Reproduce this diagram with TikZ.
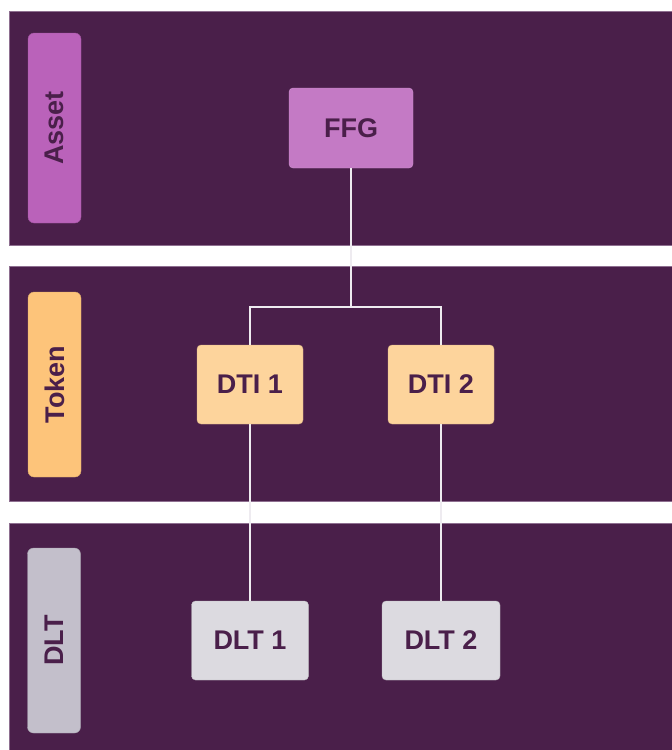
\documentclass[tikz,border=0pt]{standalone}
\usepackage{fontspec}
\setmainfont{Liberation Sans}
\usepackage{tikz}
\usetikzlibrary{positioning}
\definecolor{TKBand}{HTML}{4A1F4A}
\definecolor{TKBandEdge}{HTML}{8E6F90}
\definecolor{TKText}{HTML}{4A1F4A}
\definecolor{TKAssetPill}{HTML}{BA62BA}
\definecolor{TKAssetBox}{HTML}{C47AC5}
\definecolor{TKTokenPill}{HTML}{FDC47A}
\definecolor{TKTokenBox}{HTML}{FDD49C}
\definecolor{TKDltPill}{HTML}{C3BFCB}
\definecolor{TKDltBox}{HTML}{DCDAE0}
\definecolor{TKLink}{HTML}{EEEBF0}

\begin{document}
\begin{tikzpicture}[x=1pt,y=-1pt,
      band/.style={fill=TKBand,draw=TKBandEdge,line width=0.6pt},
      pill/.style={rounded corners=6pt,rotate=90,minimum height=53pt,
        inner sep=0pt,text=TKText,font=\fontsize{27}{31}\selectfont\bfseries},
      box/.style={rounded corners=4pt,inner sep=0pt,minimum height=79pt,
        text=TKText,font=\fontsize{27}{31}\selectfont\bfseries},
      link/.style={draw=TKLink,line width=2pt}
    ]
      \useasboundingbox (0,0) rectangle (672,750);
      \fill[white] (0,0) rectangle (672,750);
      % layer bands
      \draw[band] (9,11) rectangle (673,245);
      \draw[band] (9,266.5) rectangle (673,501);
      \draw[band] (9,523) rectangle (673,751);
      % layer labels
      \node[pill,fill=TKAssetPill,draw=TKAssetPill!85!black,line width=0.4pt,
        minimum width=190pt] (asset) at (54.5,128) {Asset};
      \node[pill,fill=TKTokenPill,draw=TKTokenPill!85!black,line width=0.4pt,
        minimum width=185pt] (token) at (54.5,384.5) {Token};
      \node[pill,fill=TKDltPill,draw=TKDltPill!85!black,line width=0.4pt,
        minimum width=185pt] (dlt) at (54,640.5) {DLT};
      % boxes
      \node[box,fill=TKAssetBox,draw=TKAssetBox!80!white,minimum width=124pt,
        minimum height=80pt] (ffg) at (351,128) {FFG};
      \node[box,fill=TKTokenBox,draw=TKTokenBox!85!black,minimum width=106pt]
        (dti1) at (250,384.5) {DTI 1};
      \node[box,fill=TKTokenBox,draw=TKTokenBox!85!black,minimum width=106pt]
        (dti2) at (441,384.5) {DTI 2};
      \node[box,fill=TKDltBox,draw=TKDltBox!85!black,minimum width=117pt]
        (dlt1) at (250,640.5) {DLT 1};
      \node[box,fill=TKDltBox,draw=TKDltBox!85!black,minimum width=118pt]
        (dlt2) at (441,640.5) {DLT 2};
      % links
      \coordinate (split) at (351,307);
      \draw[link] (ffg.south) -- (split);
      \draw[link] (dti1.north) |- (split) -| (dti2.north);
      \draw[link] (dti1.south) -- (dlt1.north);
      \draw[link] (dti2.south) -- (dlt2.north);
    \end{tikzpicture}
\end{document}
